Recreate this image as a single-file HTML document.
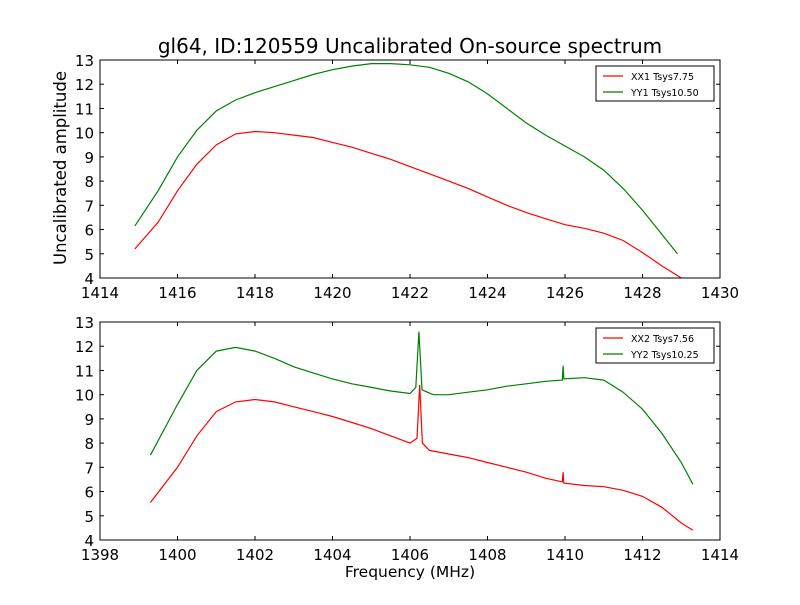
<!DOCTYPE html>
<html><head><meta charset="utf-8"><style>
body{margin:0;background:#fff;}
svg text{font-family:"DejaVu Sans","Liberation Sans",sans-serif;}
</style></head><body>
<svg id="c" width="800" height="600" xmlns="http://www.w3.org/2000/svg">
<rect width="800" height="600" fill="#fff"/>
<text x="410" y="53" font-size="20" text-anchor="middle">gl64, ID:120559 Uncalibrated On-source spectrum</text>
<text x="66" y="168" font-size="16.5" text-anchor="middle" transform="rotate(-90 66 168)">Uncalibrated amplitude</text>
<text x="410" y="577" font-size="15.5" text-anchor="middle">Frequency (MHz)</text>
</svg>
<script>
const topX1=[1414.9,1415.5,1416,1416.5,1417,1417.5,1418,1418.5,1419,1419.5,1420,1420.5,1421,1421.5,1422,1422.5,1423,1423.5,1424,1424.5,1425,1425.5,1426,1426.5,1427,1427.5,1428,1428.5,1429];
const topRed=[5.2,6.3,7.6,8.7,9.5,9.95,10.05,10.0,9.9,9.8,9.6,9.4,9.15,8.9,8.6,8.3,8.0,7.7,7.35,7.0,6.7,6.45,6.2,6.05,5.85,5.55,5.05,4.5,4.0];
const topX2=[1414.9,1415.5,1416,1416.5,1417,1417.5,1418,1418.5,1419,1419.5,1420,1420.5,1421,1421.5,1422,1422.5,1423,1423.5,1424,1424.5,1425,1425.5,1426,1426.5,1427,1427.5,1428,1428.5,1428.9];
const topGreen=[6.15,7.6,9.0,10.1,10.9,11.35,11.65,11.9,12.15,12.4,12.6,12.75,12.85,12.85,12.8,12.7,12.45,12.1,11.6,11.0,10.4,9.9,9.45,9.0,8.45,7.7,6.8,5.8,5.0];
const botXr=[1399.3,1400,1400.5,1401,1401.5,1402,1402.5,1403,1403.5,1404,1404.5,1405,1405.5,1406,1406.18,1406.25,1406.32,1406.5,1407,1407.5,1408,1408.5,1409,1409.5,1409.93,1409.95,1409.97,1410.5,1411,1411.5,1412,1412.5,1413,1413.3];
const botRed=[5.55,7.0,8.3,9.3,9.7,9.8,9.7,9.5,9.3,9.1,8.85,8.6,8.3,8.0,8.2,10.4,8.0,7.7,7.55,7.4,7.2,7.0,6.8,6.55,6.4,6.8,6.35,6.25,6.2,6.05,5.8,5.35,4.7,4.4];
const botXg=[1399.3,1400,1400.5,1401,1401.5,1402,1402.5,1403,1403.5,1404,1404.5,1405,1405.5,1406,1406.15,1406.23,1406.31,1406.6,1407,1407.5,1408,1408.5,1409,1409.5,1409.93,1409.95,1409.97,1410.5,1411,1411.5,1412,1412.5,1413,1413.3];
const botGreen=[7.5,9.6,11.0,11.8,11.95,11.8,11.5,11.15,10.9,10.65,10.45,10.3,10.15,10.05,10.3,12.6,10.2,10.0,10.0,10.1,10.2,10.35,10.45,10.55,10.6,11.2,10.65,10.7,10.6,10.1,9.4,8.4,7.2,6.3];
const topTicksX=[1414,1416,1418,1420,1422,1424,1426,1428,1430];
const botTicksX=[1398,1400,1402,1404,1406,1408,1410,1412,1414];
const ticksY=[4,5,6,7,8,9,10,11,12,13];
const svg=document.getElementById('c');
const NS='http://www.w3.org/2000/svg';
function mk(t,a){const e=document.createElementNS(NS,t);for(const k in a)e.setAttribute(k,a[k]);svg.appendChild(e);return e;}
function panel(y0,xmin,xmax,xt,series,legend,pname){
  const L=100,R=720,T=y0,B=y0+218;
  const sx=v=>L+(v-xmin)/(xmax-xmin)*(R-L);
  const sy=v=>B-(v-4)/9*(B-T);
  series.forEach(s=>{
    const d=s.x.map((v,i)=>(i?'L':'M')+sx(v).toFixed(1)+' '+sy(s.y[i]).toFixed(1)).join(' ');
    const p=mk('path',{d:d,fill:'none',stroke:s.c,'stroke-width':1.2});
    
    
  });
  const f=mk('rect',{x:L,y:T,width:R-L,height:B-T,fill:'none',stroke:'#000','stroke-width':1});
  
  
  xt.forEach(v=>{
    const x=sx(v);
    mk('line',{x1:x,x2:x,y1:B,y2:B-4,stroke:'#000'});
    mk('line',{x1:x,x2:x,y1:T,y2:T+4,stroke:'#000'});
    const t=mk('text',{x:x,y:B+20,'font-size':15,'text-anchor':'middle'});t.textContent=v;
    
    
  });
  ticksY.forEach(v=>{
    const y=sy(v);
    mk('line',{x1:L,x2:L+4,y1:y,y2:y,stroke:'#000'});
    mk('line',{x1:R,x2:R-4,y1:y,y2:y,stroke:'#000'});
    const t=mk('text',{x:L-6,y:y+6,'font-size':15,'text-anchor':'end'});t.textContent=v;
    
    
  });
  const lg=mk('rect',{x:596,y:T+6,width:118,height:35,fill:'#fff',stroke:'#000'});
  
  
  legend.forEach((l,i)=>{
    const y=T+16+i*16;
    mk('line',{x1:603,x2:623,y1:y,y2:y,stroke:l.c,'stroke-width':1.2});
    const t=mk('text',{x:631,y:y+4,'font-size':9.5});t.textContent=l.t;
    
    
  });
}
panel(60,1414,1430,topTicksX,[{x:topX1,y:topRed,c:'#ff0000',n:'xx1-line'},{x:topX2,y:topGreen,c:'#008000',n:'yy1-line'}],[{c:'#ff0000',t:'XX1 Tsys7.75'},{c:'#008000',t:'YY1 Tsys10.50'}],'top-panel');
panel(322,1398,1414,botTicksX,[{x:botXr,y:botRed,c:'#ff0000',n:'xx2-line'},{x:botXg,y:botGreen,c:'#008000',n:'yy2-line'}],[{c:'#ff0000',t:'XX2 Tsys7.56'},{c:'#008000',t:'YY2 Tsys10.25'}],'bottom-panel');
</script>
</body></html>
